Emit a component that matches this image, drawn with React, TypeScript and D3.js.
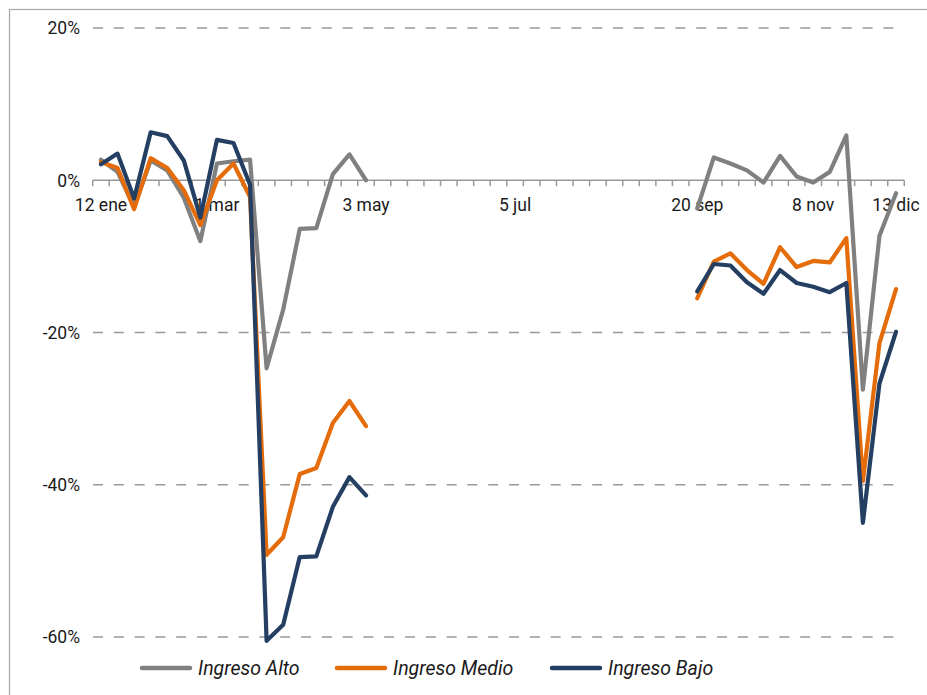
import * as d3 from "d3"
import { useEffect, useRef } from "react"

// weekly categories, 12 ene .. 13 dic (49 weeks)
const weekCount = 49
const tickIndex = [0, 7, 16, 25, 36, 43, 48]
const tickText = ["12 ene", "1 mar", "3 may", "5 jul", "20 sep", "8 nov", "13 dic"]
const yTicks = [20, 0, -20, -40, -60]

// values in %, first block = weeks 0..16, second block = weeks 36..48
const altoA = [2.7, 1.1, -3.5, 2.6, 1.3, -2.3, -8.0, 2.2, 2.5, 2.7, -24.7, -17.0, -6.4, -6.3, 0.8, 3.4, 0.0]
const altoB = [-3.7, 3.0, 2.2, 1.3, -0.3, 3.2, 0.5, -0.3, 1.1, 5.9, -27.5, -7.3, -1.7]
const medioA = [2.4, 1.6, -3.8, 2.9, 1.6, -1.3, -5.9, 0.0, 2.2, -2.2, -49.2, -46.9, -38.6, -37.8, -31.9, -29.0, -32.3]
const medioB = [-15.5, -10.7, -9.6, -11.8, -13.6, -8.8, -11.4, -10.6, -10.8, -7.6, -39.5, -21.4, -14.3]
const bajoA = [2.1, 3.5, -2.4, 6.3, 5.8, 2.6, -4.9, 5.3, 4.9, -0.6, -60.5, -58.4, -49.5, -49.4, -42.9, -39.0, -41.4]
const bajoB = [-14.6, -11.0, -11.2, -13.4, -14.9, -11.8, -13.5, -14.0, -14.7, -13.5, -45.0, -26.7, -19.9]

const seriesNames = ["Ingreso Alto", "Ingreso Medio", "Ingreso Bajo"]
const seriesColors = ["#808080", "#E46C0A", "#243F62"]

function fullYear(a: number[], b: number[]): (number | null)[] {
    const missing = weekCount - a.length - b.length
    return [...a, ...new Array(missing).fill(null), ...b]
}

export default function App() {
    const svgRef = useRef<SVGSVGElement>(null)

    useEffect(() => {
        const width = 927
        const height = 695
        const font = "Roboto, sans-serif"

        const series = [fullYear(altoA, altoB), fullYear(medioA, medioB), fullYear(bajoA, bajoB)]

        const x = d3.scaleBand<number>(d3.range(weekCount), [92.7, 904.3]).padding(0)
        const cx = (i: number) => (x(i) ?? 0) + x.bandwidth() / 2
        const y = d3.scaleLinear([-60, 20], [637, 28])

        if (svgRef.current !== null) {
            svgRef.current.innerHTML = ""
        }

        const svg = d3.select(svgRef.current)
            .attr("width", width)
            .attr("height", height)
            .attr("viewBox", [0, 0, width, height])

        svg.append("rect")
            .attr("x", 9.5).attr("y", 9.5)
            .attr("width", width + 20).attr("height", height + 20)
            .attr("fill", "white")
            .attr("stroke", "#a6a6a6")
            .attr("stroke-width", 1.2)

        // grid lines
        svg.append("g")
            .selectAll()
            .data(yTicks.filter(t => t !== 0))
            .join("line")
                .attr("x1", 93).attr("x2", 904)
                .attr("y1", d => y(d)).attr("y2", d => y(d))
                .attr("stroke", "#999")
                .attr("stroke-width", 1.5)
                .attr("stroke-dasharray", "10,10.8")

        svg.append("g")
            .selectAll()
            .data(yTicks)
            .join("text")
                .attr("x", 80)
                .attr("y", d => y(d))
                .attr("dy", "0.36em")
                .attr("text-anchor", "end")
                .attr("font-family", font)
                .attr("font-size", 17.5)
                .attr("fill", "#1a1a1a")
                .text(d => `${d}%`)

        // zero axis with category ticks
        const axis = svg.append("g")
        axis.append("line")
            .attr("x1", 92.7).attr("x2", 904.3)
            .attr("y1", y(0)).attr("y2", y(0))
            .attr("stroke", "#999")
            .attr("stroke-width", 1.5)
        axis.selectAll("line.tick")
            .data(d3.range(weekCount + 1))
            .join("line")
                .attr("class", "tick")
                .attr("x1", i => 92.7 + i * x.step())
                .attr("x2", i => 92.7 + i * x.step())
                .attr("y1", y(0)).attr("y2", y(0) + 6)
                .attr("stroke", "#999")
                .attr("stroke-width", 1.5)
        axis.selectAll("text")
            .data(tickIndex)
            .join("text")
                .attr("x", i => cx(i))
                .attr("y", 211)
                .attr("text-anchor", "middle")
                .attr("font-family", font)
                .attr("font-size", 17.5)
                .attr("fill", "#1a1a1a")
                .text((_, k) => tickText[k])

        const line = d3.line<number | null>()
            .defined(d => d !== null)
            .x((_, i) => cx(i))
            .y(d => y(d as number))

        svg.append("g")
            .selectAll()
            .data(series)
            .join("path")
                .attr("d", d => line(d))
                .attr("fill", "none")
                .attr("stroke", (_, k) => seriesColors[k])
                .attr("stroke-width", 4.2)
                .attr("stroke-linejoin", "round")
                .attr("stroke-linecap", "round")

        // legend
        const legendX = [142, 337, 552]
        const legend = svg.append("g")
            .selectAll()
            .data(seriesNames)
            .join("g")
                .attr("transform", (_, k) => `translate(${legendX[k]}, 668)`)
        legend.append("line")
            .attr("x1", 0).attr("x2", 48)
            .attr("stroke", (_, k) => seriesColors[k])
            .attr("stroke-width", 4.5)
            .attr("stroke-linecap", "round")
        legend.append("text")
            .attr("x", 56)
            .attr("dy", "0.36em")
            .attr("font-family", font)
            .attr("font-size", 19.5)
            .attr("font-style", "italic")
            .attr("fill", "#1a1a1a")
            .text(d => d)
    }, [])

    return <svg ref={svgRef} style={{ position: "absolute", left: 0, top: 0 }}></svg>
}
